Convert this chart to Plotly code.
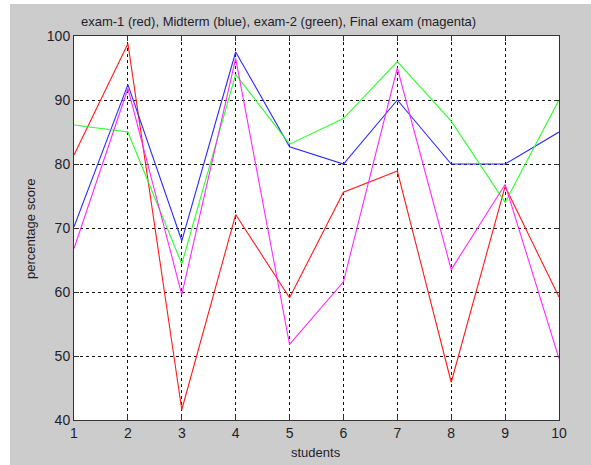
import plotly.graph_objects as go

students = [1, 2, 3, 4, 5, 6, 7, 8, 9, 10]
exam1 = [81.4, 98.8, 41.6, 72.1, 59.1, 75.6, 78.9, 45.9, 76.5, 59.2]
midterm = [70.2, 92.4, 68.0, 97.5, 82.7, 80.0, 90.0, 80.0, 80.0, 85.0]
exam2 = [86.1, 85.0, 64.4, 94.0, 83.1, 87.1, 96.0, 86.7, 74.0, 90.0]
final = [66.8, 91.8, 59.6, 96.5, 51.8, 61.6, 95.0, 63.5, 76.8, 49.6]

series = [
    (exam1, "#ff1a1a"),
    (midterm, "#2a2aff"),
    (exam2, "#2aff2a"),
    (final, "#ff2aff"),
]

x_ticks = [1, 2, 3, 4, 5, 6, 7, 8, 9, 10]
y_ticks = [40, 50, 60, 70, 80, 90, 100]

fig = go.Figure()
for vals, col in series:
    fig.add_trace(go.Scatter(x=students, y=vals, mode="lines",
                             line=dict(color=col, width=1.1), showlegend=False,
                             hoverinfo="skip"))

W, H = 591, 465
L, R, T, B = 74, 32, 36, 45
pw, ph = W - L - R, H - T - B

def px_x(px):
    return (px - L) / pw

def px_y(py):
    return (H - B - py) / ph

font = dict(family="Liberation Sans, Arial, sans-serif", size=14, color="#1e1e2a")
lab_font = dict(family="Liberation Sans, Arial, sans-serif", size=13, color="#1e1e2a")

axis_common = dict(
    showgrid=True, gridcolor="#111111", griddash="3px,3px", gridwidth=1,
    showline=True, linecolor="#333333", linewidth=1, mirror="ticks",
    ticks="inside", ticklen=5, tickcolor="#333333",
    zeroline=False, tickfont=font,
)

fig.update_layout(
    width=W, height=H,
    margin=dict(l=L, r=R, t=T, b=B),
    paper_bgcolor="#cccccc", plot_bgcolor="#ffffff",
    xaxis=dict(range=[1, 10], tickvals=x_ticks, **axis_common),
    yaxis=dict(range=[40, 100], tickvals=y_ticks, **axis_common),
    shapes=[
        dict(type="rect", xref="paper", yref="paper",
             x0=px_x(-5), x1=px_x(10), y0=px_y(470), y1=px_y(-5),
             fillcolor="#ffffff", line=dict(width=0), layer="above"),
        dict(type="rect", xref="paper", yref="paper",
             x0=px_x(-5), x1=px_x(600), y0=px_y(4), y1=px_y(-5),
             fillcolor="#ffffff", line=dict(width=0), layer="above"),
    ],
    annotations=[
        dict(text="exam-1 (red), Midterm (blue), exam-2 (green), Final exam (magenta)",
             xref="paper", yref="paper", x=px_x(278), y=px_y(21),
             xanchor="center", yanchor="middle", showarrow=False, font=lab_font),
        dict(text="students", xref="paper", yref="paper", x=px_x(316), y=px_y(452),
             xanchor="center", yanchor="middle", showarrow=False, font=lab_font),
        dict(text="percentage score", xref="paper", yref="paper", x=px_x(30), y=px_y(229),
             xanchor="center", yanchor="middle", showarrow=False, textangle=-90,
             font=lab_font),
    ],
)

fig.write_html("out.html", config={"displayModeBar": False},
               post_script="document.body.style.margin='0';")
